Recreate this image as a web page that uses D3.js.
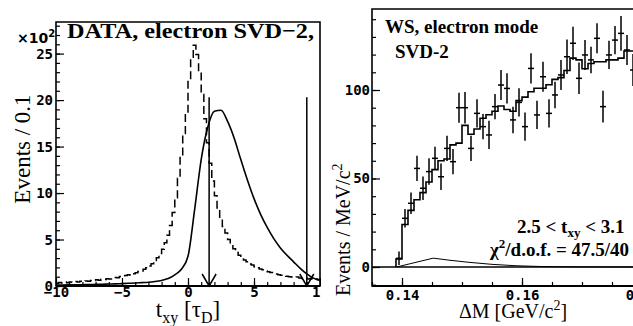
<!DOCTYPE html>
<head>
<meta charset="utf-8">
<title>WS electron mode, SVD-2</title>
<style>
body { margin: 0; background: #fff; }
.tick text { font: bold 14px "DejaVu Sans Mono", monospace; fill: #000; }
.tick line { stroke: #000; stroke-width: 1.2px; }
.domain { display: none; }
.frame { fill: none; stroke: #000; stroke-width: 1.6px; }
.serif { font-family: "Liberation Serif", "Times New Roman", serif; fill: #000; }
</style>
</head>
<body>
<svg width="633" height="326"></svg>
<script src="https://d3js.org/d3.v7.min.js"></script>
<script>
// ---- left panel: t_xy distribution (x10^2 events / 0.1)
let tStart = -10, tStep = 0.2
let dataT = [
  0.30,0.38,0.32,0.42,0.36,0.44,0.40,0.48,0.42,0.50,
  0.46,0.55,0.52,0.60,0.56,0.66,0.62,0.72,0.70,0.78,
  0.76,0.86,0.92,0.88,1.02,1.00,1.12,1.20,1.16,1.32,
  1.42,1.55,1.62,1.80,1.95,2.15,2.40,2.75,3.05,3.50,
  3.95,4.65,5.45,6.50,7.90,9.50,11.6,14.0,16.4,18.6,
  22.0,24.6,25.9,24.9,23.0,20.6,18.0,15.4,13.2,11.3,
  9.7,8.4,7.3,6.4,5.7,5.0,4.5,4.0,3.6,3.3,
  3.05,2.80,2.62,2.38,2.25,2.08,1.95,1.82,1.74,1.62,
  1.52,1.44,1.36,1.30,1.22,1.16,1.10,1.06,1.00,0.96,
  0.92,0.96,0.86,0.82,0.86,0.76,0.80,0.72,0.76,0.70
]
let curveT = [-10,-9.5,-9,-8.5,-8,-7.5,-7,-6.5,-6,-5.5,-5,-4.5,-4,-3.5,-3,-2.5,-2,-1.5,-1,-0.5,
  0,0.5,1,1.5,2,2.5,3,3.5,4,4.5,5,5.5,6,6.5,7,7.5,8,8.5,9,9.5,10]
let curveV = [0.10,0.11,0.12,0.13,0.14,0.15,0.17,0.19,0.21,0.23,0.26,0.29,0.32,0.36,0.40,0.48,0.60,0.80,1.2,1.8,
  3.2,8.2,13.6,17.1,18.8,18.9,17.7,15.9,13.6,11.4,9.4,7.7,6.3,5.1,4.1,3.3,2.6,1.9,1.3,0.85,0.6]
let cutT = [1.6, 9.0]
let cutTop = 20.3

// ---- right panel: Delta M, WS electron mode
let mLow = 0.139, mStep = 0.001
let wsData = [4.9,27.5,36.0,55.7,44.5,53.9,61.4,51.0,67.0,59.5,90.0,90.0,67.0,86.8,79.3,74.6,90.6,102.8,100.9,83.1,
  93.0,79.3,112.2,85.9,107.5,86.8,97.2,108.5,118.8,126.4,106.6,119.8,117.0,129.2,90.6,119.8,128.2,132.0,122.6,111.3]
let wsErr = [3.8,5.2,6.1,7.1,6.6,7.5,6.6,7.5,7.1,7.1,8.5,8.9,7.1,8.0,7.1,8.0,7.1,8.5,8.5,7.5,
  8.0,8.0,8.5,8.0,8.5,8.0,7.5,8.5,9.8,9.4,8.9,8.5,7.5,8.5,9.0,8.0,8.0,9.8,8.5,9.0]
let wsFit = [4.5,24,32,38,42,48,55,60,61,69,70,80,75,78,84,86,88,91,89,88,
  94,96,99,101,101,103,106,107,111,118,117,112,115,116,116,117,117,118,122,122]
let bgMass = [0.1391,0.1452,0.148,0.151,0.155,0.159,0.163,0.168,0.180]
let bgVal  = [0,5.0,3.8,2.7,1.5,0.7,0.3,0.1,0]

let svg = d3.select("svg")

// ================= left panel =================
let xL = d3.scaleLinear().domain([-10, 10]).range([56, 320])
let yL = d3.scaleLinear().domain([0, 28.4]).range([286, 22])
let gL = svg.append("g")

gL.append("g").attr("transform", "translate(56,0)")
  .call(d3.axisLeft(yL).tickValues(d3.range(0, 29, 1)).tickSize(-4).tickFormat(""))
gL.append("g").attr("transform", "translate(56,0)")
  .call(d3.axisLeft(yL).tickValues([0,5,10,15,20,25]).tickSize(-8).tickPadding(3))
gL.append("g").attr("transform", "translate(0,286)")
  .call(d3.axisBottom(xL).tickValues(d3.range(-10, 11, 1)).tickSize(-4).tickFormat(""))
gL.append("g").attr("transform", "translate(0,286)")
  .call(d3.axisBottom(xL).tickValues([-10,-5,0,5,10]).tickSize(-8).tickPadding(1))

gL.append("path").attr("class", "frame")
  .attr("d", `M56,22H320V286H56Z`)
gL.append("line").attr("x1", 56).attr("x2", 320).attr("y1", 286).attr("y2", 286)
  .attr("stroke", "#000").attr("stroke-width", 2.2)

let stepPts = dataT.map((v, i) => [tStart + i * tStep, v])
stepPts.push([10, dataT[dataT.length - 1]])
gL.append("path")
  .datum(stepPts)
  .attr("fill", "none").attr("stroke", "#000").attr("stroke-width", 1.5)
  .attr("stroke-dasharray", "8,4")
  .attr("d", d3.line().curve(d3.curveStepAfter).x(d => xL(d[0])).y(d => yL(d[1])))

gL.append("path")
  .datum(curveT.map((t, i) => [t, curveV[i]]))
  .attr("fill", "none").attr("stroke", "#000").attr("stroke-width", 1.6)
  .attr("d", d3.line().curve(d3.curveMonotoneX).x(d => xL(d[0])).y(d => yL(d[1])))

cutT.forEach(t => {
  let x = xL(t), y0 = yL(0)
  gL.append("path")
    .attr("fill", "none").attr("stroke", "#000").attr("stroke-width", 1.5)
    .attr("d", `M${x},${yL(cutTop)}V${y0}M${x - 7},${y0 - 12}L${x},${y0}L${x + 7},${y0 - 12}`)
})

gL.append("text").attr("class", "serif")
  .attr("x", 67).attr("y", 38)
  .attr("font-size", 22).attr("font-weight", "bold")
  .attr("textLength", 247).attr("lengthAdjust", "spacingAndGlyphs")
  .text("DATA, electron SVD\u22122,")

let mult = gL.append("text").attr("x", 17).attr("y", 43)
  .style("font", "bold 14px 'DejaVu Sans', sans-serif")
mult.append("tspan").text("\u00d710")
mult.append("tspan").attr("font-size", 10).attr("dy", -6).text("2")

gL.append("text").attr("class", "serif")
  .attr("transform", "translate(30,149) rotate(-90)")
  .attr("text-anchor", "middle").attr("font-size", 23)
  .text("Events / 0.1")

let xlabL = gL.append("text").attr("class", "serif")
  .attr("x", 188).attr("y", 317).attr("text-anchor", "middle").attr("font-size", 23)
xlabL.append("tspan").text("t")
xlabL.append("tspan").attr("font-size", 16).attr("dy", 6).text("xy")
xlabL.append("tspan").attr("dy", -6).text(" [\u03c4")
xlabL.append("tspan").attr("font-size", 16).attr("dy", 6).text("D")
xlabL.append("tspan").attr("dy", -6).text("]")

// ================= right panel =================
let xR = d3.scaleLinear().domain([0.14, 0.16]).range([402, 522])
let yR = d3.scaleLinear().domain([0, 100]).range([267, 90])
let gR = svg.append("g")

gR.append("rect").attr("x", 321).attr("y", 0).attr("width", 312).attr("height", 326).attr("fill", "#fff")

gR.append("g").attr("transform", "translate(372,0)")
  .call(d3.axisLeft(yR).tickValues(d3.range(-10, 150, 10)).tickSize(-4).tickFormat(""))
gR.append("g").attr("transform", "translate(372,0)")
  .call(d3.axisLeft(yR).tickValues([0, 50, 100]).tickSize(-8).tickPadding(2))
gR.append("g").attr("transform", "translate(0,286)")
  .call(d3.axisBottom(xR).tickValues(d3.range(0.135, 0.1801, 0.005)).tickSize(-4).tickFormat(""))
gR.append("g").attr("transform", "translate(0,286)")
  .call(d3.axisBottom(xR).tickValues([0.14, 0.16, 0.18]).tickSize(-8).tickPadding(4).tickFormat(d3.format(".2f")))

gR.append("path").attr("class", "frame").attr("d", "M640,9H372V286H640")
gR.append("line").attr("x1", 372).attr("x2", 640).attr("y1", 286).attr("y2", 286)
  .attr("stroke", "#000").attr("stroke-width", 2.2)

// zero line
gR.append("line").attr("x1", 372).attr("x2", 640).attr("y1", yR(0)).attr("y2", yR(0))
  .attr("stroke", "#000").attr("stroke-width", 1.6)

// background shape
gR.append("path")
  .datum(bgMass.map((m, i) => [m, bgVal[i]]))
  .attr("fill", "none").attr("stroke", "#000").attr("stroke-width", 1)
  .attr("d", d3.line().x(d => xR(d[0])).y(d => yR(d[1])))

// fit histogram
let fitPts = [[mLow, 0]].concat(wsFit.map((v, i) => [mLow + i * mStep, v]))
fitPts.push([mLow + wsFit.length * mStep, wsFit[wsFit.length - 1]])
gR.append("path")
  .datum(fitPts)
  .attr("fill", "none").attr("stroke", "#000").attr("stroke-width", 1.6)
  .attr("d", d3.line().curve(d3.curveStepAfter).x(d => xR(d[0])).y(d => yR(d[1])))

// data points with error bars
let pts = gR.append("g").attr("stroke", "#000").attr("stroke-width", 1.5)
wsData.forEach((v, i) => {
  let lo = mLow + i * mStep, c = lo + mStep / 2
  pts.append("line").attr("x1", xR(c)).attr("x2", xR(c))
    .attr("y1", yR(v - wsErr[i])).attr("y2", yR(v + wsErr[i]))
  pts.append("line").attr("x1", xR(lo)).attr("x2", xR(lo + mStep))
    .attr("y1", yR(v)).attr("y2", yR(v))
})

gR.append("text").attr("class", "serif").attr("x", 385).attr("y", 33)
  .attr("font-size", 19).attr("font-weight", "bold").text("WS, electron mode")
gR.append("text").attr("class", "serif").attr("x", 395).attr("y", 58)
  .attr("font-size", 19).attr("font-weight", "bold").text("SVD-2")

let cutLab = gR.append("text").attr("class", "serif").attr("x", 517).attr("y", 233)
  .attr("font-size", 19).attr("font-weight", "bold")
cutLab.append("tspan").text("2.5 < t")
cutLab.append("tspan").attr("font-size", 13).attr("dy", 4).text("xy")
cutLab.append("tspan").attr("dy", -4).text(" < 3.1")

let chiLab = gR.append("text").attr("class", "serif").attr("x", 490).attr("y", 256)
  .attr("font-size", 19).attr("font-weight", "bold")
chiLab.append("tspan").text("\u03c7")
chiLab.append("tspan").attr("font-size", 13).attr("dy", -8).text("2")
chiLab.append("tspan").attr("dy", 8).text("/d.o.f. = 47.5/40")

let ylabR = gR.append("text").attr("class", "serif")
  .attr("transform", "translate(350,296) rotate(-90)").attr("font-size", 20)
ylabR.append("tspan").text("Events / MeV/c")
ylabR.append("tspan").attr("font-size", 14).attr("dy", -8).text("2")

let xlabR = gR.append("text").attr("class", "serif")
  .attr("x", 513).attr("y", 318).attr("text-anchor", "middle").attr("font-size", 20)
xlabR.append("tspan").text("\u0394M [GeV/c")
xlabR.append("tspan").attr("font-size", 14).attr("dy", -8).text("2")
xlabR.append("tspan").attr("dy", 8).text("]")
</script>
</body>
